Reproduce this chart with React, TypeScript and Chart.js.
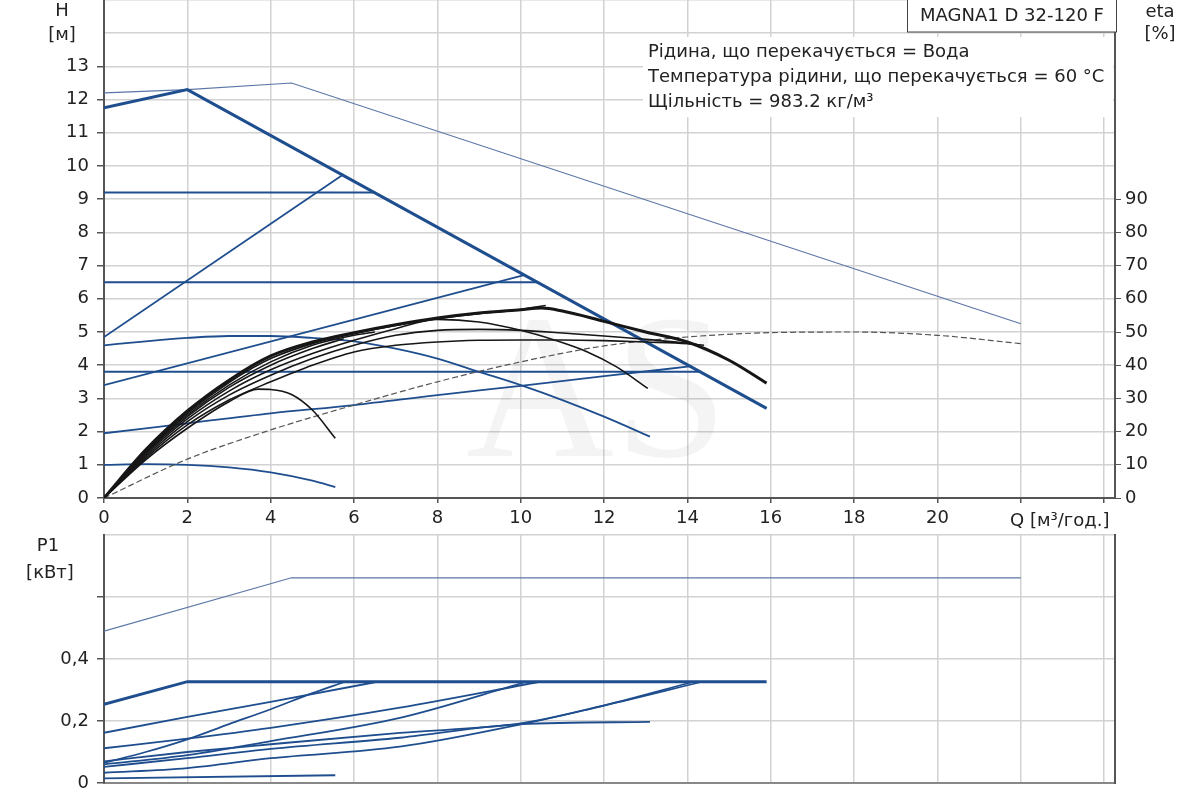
import React, { useEffect, useRef } from "react";
import { Chart, registerables } from "chart.js";

Chart.register(...registerables);

// ---- H curves [m] ----
const maxQ = [0, 2, 4.5, 22];
const maxH = [12.2, 12.3, 12.5, 5.25];
const ctrlMaxQ = [0, 2, 15.9];
const ctrlMaxH = [11.75, 12.3, 2.7];
const cp92Q = [0, 6.5];
const cp92H = [9.2, 9.2];
const cp65Q = [0, 10.4];
const cp65H = [6.5, 6.5];
const cp38Q = [0, 14.3];
const cp38H = [3.8, 3.8];
const pp485Q = [0, 5.75];
const pp485H = [4.85, 9.75];
const pp34Q = [0, 10.1];
const pp34H = [3.4, 6.72];
const pp195Q = [0, 2, 4, 6, 8, 10, 12, 14.1];
const pp195H = [1.95, 2.25, 2.55, 2.8, 3.1, 3.38, 3.67, 3.97];
const cc46Q = [0, 1, 2, 3, 4, 5, 6, 7, 8, 9, 10, 11, 12, 13.1];
const cc46H = [4.6, 4.72, 4.82, 4.88, 4.88, 4.82, 4.72, 4.5, 4.2, 3.8, 3.4, 2.95, 2.45, 1.85];
const minQ = [0, 1, 2, 3, 4, 5, 5.55];
const minH = [1.0, 1.02, 1.0, 0.92, 0.77, 0.52, 0.33];

// ---- eta curves [%] ----
const etaMainQ = [0, 1, 2, 3, 4, 5, 6, 7, 8, 9, 10, 10.5, 11, 12, 13, 14, 15, 15.9];
const etaMain = [0, 14.5, 26.2, 35.5, 42.8, 47, 49.8, 52.2, 54.2, 55.7, 56.7, 57.2, 56.3, 53.2, 50, 47, 41.5, 34.6];
const eta65Q = [0, 1, 2, 3, 4, 5, 6, 7, 8, 9, 10, 10.6];
const eta65 = [0, 14, 25.5, 34.8, 42, 46.5, 49.5, 52, 54, 55.5, 56.8, 58];
const eta92Q = [0, 1, 2, 3, 4, 5, 6, 6.5];
const eta92 = [0, 13.8, 25, 34, 41, 46, 49, 50];
const eta485Q = [0, 1, 2, 3, 4, 5, 5.75];
const eta485 = [0, 13.5, 24.5, 33.3, 40, 45, 48];
const eta46Q = [0, 1, 2, 3, 4, 5, 6, 7, 8, 9, 10, 10.8, 11.6, 12.3, 13.05];
const eta46 = [0, 13, 23.8, 32.2, 38.6, 43.5, 47.5, 51, 53.8, 53, 50.5, 47.6, 44, 39.5, 33];
const eta34Q = [0, 1, 2, 3, 4, 5, 6, 7, 8, 9, 10, 11, 12, 13, 14, 14.3];
const eta34 = [0, 12.5, 23, 31, 37, 42, 46, 49, 50.5, 50.8, 50.5, 49.7, 48.8, 47.8, 46.6, 46];
const eta38Q = [0, 1, 2, 3, 4, 5, 6, 7, 8, 9, 10, 11, 12, 13, 14, 14.4];
const eta38 = [0, 12, 22, 29.5, 35, 40, 44, 46, 47, 47.5, 47.6, 47.6, 47.4, 47, 46.5, 46];
const etaMinQ = [0, 1, 2, 3, 3.7, 4, 4.5, 5, 5.55];
const etaMin = [0, 11.5, 21, 29, 32.8, 32.7, 31.2, 26.5, 18];
const etaMaxQ = [0, 2, 4, 6, 8, 10, 12, 14, 16, 18, 20, 22];
const etaMax = [0, 11.7, 20.5, 28, 35, 41, 45.8, 48.5, 49.8, 50, 49, 46.5];

// ---- P1 curves [kW] ----
const pMaxQ = [0, 4.5, 22];
const pMax = [0.49, 0.662, 0.662];
const pCtrlQ = [0, 2, 15.9];
const pCtrl = [0.254, 0.327, 0.327];
const p92Q = [0, 2, 4, 6.5];
const p92 = [0.162, 0.213, 0.262, 0.325];
const p485Q = [0, 1, 2, 3, 4, 5, 5.75];
const p485 = [0.065, 0.1, 0.141, 0.19, 0.238, 0.29, 0.325];
const p65Q = [0, 2, 4, 7.1, 10.4];
const p65 = [0.112, 0.143, 0.178, 0.243, 0.325];
const p34Q = [0, 2, 4, 7.1, 10.1];
const p34 = [0.06, 0.09, 0.135, 0.21, 0.325];
const p38Q = [0, 2, 4, 7.1, 10, 12, 14.3];
const p38 = [0.07, 0.1, 0.125, 0.162, 0.192, 0.25, 0.325];
const p195Q = [0, 2, 4, 7.1, 10, 12, 14.1];
const p195 = [0.033, 0.048, 0.08, 0.117, 0.189, 0.25, 0.325];
const p46Q = [0, 2, 4, 7.1, 10, 13.1];
const p46 = [0.052, 0.08, 0.11, 0.146, 0.19, 0.197];
const pMinQ = [0, 5.55];
const pMin = [0.015, 0.025];

const infoLines = [
  "Рідина, що перекачується = Вода",
  "Температура рідини, що перекачується = 60 °C",
  "Щільність = 983.2 кг/м³",
];
const pumpName = "MAGNA1 D 32-120 F";

const FONT = "DejaVu Sans";
const BLUE = "#1f4e8f";
const BLUE_THIN = "#5b76a6";
const BLACK = "#161616";
const GRID = "#d2d2d2";
const AXIS = "#555";

const pts = (q: number[], v: number[]) => q.map((x, i) => ({ x, y: v[i] }));

const line = (q: number[], v: number[], color: string, width: number, axis: string, smooth = false, extra: any = {}) => ({
  data: pts(q, v),
  borderColor: color,
  borderWidth: width,
  pointRadius: 0,
  fill: false,
  yAxisID: axis,
  tension: 0,
  cubicInterpolationMode: smooth ? "monotone" : "default",
  ...extra,
});

// no extra label padding, so the plot areas sit exactly where wanted
const fixV = (w: number) => (s: any) => {
  s.width = w;
  s.paddingTop = 0;
  s.paddingBottom = 0;
};
const fixH = (h: number) => (s: any) => {
  s.height = h;
  s.paddingLeft = 0;
  s.paddingRight = 0;
};

const topDecor = {
  id: "topDecor",
  beforeDatasetsDraw(chart: any) {
    const ctx = chart.ctx;
    ctx.save();
    ctx.fillStyle = "rgba(0,0,0,0.045)";
    ctx.font = `205px "Liberation Serif"`;
    ctx.textAlign = "center";
    ctx.textBaseline = "middle";
    ctx.fillText("AS", 597, 402);
    ctx.fillStyle = "#fff";
    ctx.fillRect(643, 37, 470, 80);
    ctx.restore();
  },
  afterDraw(chart: any) {
    const ctx = chart.ctx;
    ctx.save();
    ctx.fillStyle = "#222";
    ctx.font = `18px "${FONT}"`;
    ctx.textBaseline = "middle";
    ctx.textAlign = "center";
    ctx.fillText("H", 62, 11);
    ctx.fillText("[м]", 62, 35);
    ctx.fillText("eta", 1160, 12);
    ctx.fillText("[%]", 1160, 34);
    ctx.textAlign = "left";
    ctx.fillText("Q [м³/год.]", 1010, 521);
    infoLines.forEach((t, i) => ctx.fillText(t, 648, 52 + i * 25));
    // pump name box
    ctx.fillStyle = "#fff";
    ctx.fillRect(907, -1, 210, 33);
    ctx.strokeStyle = "#444";
    ctx.lineWidth = 1;
    ctx.strokeRect(907.5, -1, 209, 33);
    ctx.fillStyle = "#222";
    ctx.textAlign = "center";
    ctx.fillText(pumpName, 1012, 16);
    ctx.restore();
  },
};

const bottomDecor = {
  id: "bottomDecor",
  afterDraw(chart: any) {
    const ctx = chart.ctx;
    ctx.save();
    ctx.fillStyle = "#222";
    ctx.font = `18px "${FONT}"`;
    ctx.textBaseline = "middle";
    ctx.textAlign = "center";
    ctx.fillText("P1", 48, 16);
    ctx.fillText("[кВт]", 50, 43);
    ctx.restore();
  },
};

const tickFont = { family: FONT, size: 18 };

const App: React.FC = () => {
  const topRef = useRef<HTMLCanvasElement>(null);
  const bottomRef = useRef<HTMLCanvasElement>(null);

  useEffect(() => {
    if (!topRef.current || !bottomRef.current) return;

    const topChart = new Chart(topRef.current, {
      type: "line",
      data: {
        datasets: [
          line(etaMainQ, etaMain, BLACK, 3, "yEta", true),
          line(eta65Q, eta65, BLACK, 1.6, "yEta", true),
          line(eta92Q, eta92, BLACK, 1.6, "yEta", true),
          line(eta485Q, eta485, BLACK, 1.6, "yEta", true),
          line(eta46Q, eta46, BLACK, 1.6, "yEta", true),
          line(eta34Q, eta34, BLACK, 1.6, "yEta", true),
          line(eta38Q, eta38, BLACK, 1.6, "yEta", true),
          line(etaMinQ, etaMin, BLACK, 1.6, "yEta", true),
          line(etaMaxQ, etaMax, "#555", 1.2, "yEta", true, { borderDash: [6, 3] }),
          line(ctrlMaxQ, ctrlMaxH, BLUE, 3, "y"),
          line(maxQ, maxH, BLUE_THIN, 1.2, "y"),
          line(cp92Q, cp92H, BLUE, 2, "y"),
          line(cp65Q, cp65H, BLUE, 2, "y"),
          line(cp38Q, cp38H, BLUE, 2, "y"),
          line(pp485Q, pp485H, BLUE, 1.8, "y"),
          line(pp34Q, pp34H, BLUE, 1.8, "y"),
          line(pp195Q, pp195H, BLUE, 1.8, "y", true),
          line(cc46Q, cc46H, BLUE, 1.8, "y", true),
          line(minQ, minH, BLUE, 1.8, "y", true),
        ] as any,
      },
      options: {
        responsive: false,
        animation: false,
        layout: { padding: 0 },
        plugins: { legend: { display: false }, tooltip: { enabled: false } },
        scales: {
          x: {
            type: "linear",
            min: 0,
            max: 24.26,
            ticks: {
              stepSize: 2,
              includeBounds: false,
              autoSkip: false,
              maxRotation: 0,
              padding: 5,
              color: "#222",
              font: tickFont,
              callback: (v: any) => (v <= 20 ? String(v) : ""),
            },
            grid: { color: GRID, lineWidth: 1.5, tickLength: 5, tickColor: AXIS },
            border: { color: AXIS, width: 2 },
            afterFit: fixH(32),
          },
          y: {
            position: "left",
            min: 0,
            max: 15,
            ticks: {
              stepSize: 1,
              padding: 8,
              color: "#222",
              font: tickFont,
              callback: (v: any) => (v <= 13 ? String(v) : ""),
            },
            grid: {
              color: GRID,
              lineWidth: 1.5,
              tickLength: 7,
              tickColor: (c: any) => (c.tick && c.tick.value <= 13 ? AXIS : "rgba(0,0,0,0)"),
            },
            border: { color: AXIS, width: 2 },
            afterFit: fixV(104),
          },
          yEta: {
            position: "right",
            min: 0,
            max: 150,
            ticks: {
              stepSize: 10,
              padding: 4,
              color: "#222",
              font: tickFont,
              callback: (v: any) => (v <= 90 ? String(v) : ""),
            },
            grid: {
              drawOnChartArea: false,
              tickLength: 6,
              tickColor: (c: any) => (c.tick && c.tick.value <= 90 ? AXIS : "rgba(0,0,0,0)"),
            },
            border: { color: AXIS, width: 2 },
            afterFit: fixV(85),
          },
        },
      } as any,
      plugins: [topDecor],
    });

    const bottomChart = new Chart(bottomRef.current, {
      type: "line",
      data: {
        datasets: [
          line(pCtrlQ, pCtrl, BLUE, 3, "y"),
          line(pMaxQ, pMax, BLUE_THIN, 1.2, "y"),
          line(p92Q, p92, BLUE, 1.8, "y"),
          line(p485Q, p485, BLUE, 1.8, "y", true),
          line(p65Q, p65, BLUE, 1.8, "y", true),
          line(p34Q, p34, BLUE, 1.8, "y", true),
          line(p38Q, p38, BLUE, 1.8, "y", true),
          line(p195Q, p195, BLUE, 1.8, "y", true),
          line(p46Q, p46, BLUE, 1.8, "y", true),
          line(pMinQ, pMin, BLUE, 1.8, "y"),
        ] as any,
      },
      options: {
        responsive: false,
        animation: false,
        layout: { padding: { top: 5 } },
        plugins: { legend: { display: false }, tooltip: { enabled: false } },
        scales: {
          x: {
            type: "linear",
            min: 0,
            max: 24.26,
            ticks: { stepSize: 2, includeBounds: false, display: false },
            grid: { color: GRID, lineWidth: 1.5, drawTicks: false },
            border: { color: "#888", width: 2 },
            afterFit: fixH(17),
          },
          y: {
            position: "left",
            min: 0,
            max: 0.8,
            ticks: {
              stepSize: 0.2,
              padding: 8,
              color: "#222",
              font: tickFont,
              callback: (v: any) => {
                const r = Math.round(v * 10) / 10;
                if (r === 0) return "0";
                if (r <= 0.4) return r.toFixed(1).replace(".", ",");
                return "";
              },
            },
            grid: {
              color: GRID,
              lineWidth: 1.5,
              tickLength: 7,
              tickColor: (c: any) => (c.tick && c.tick.value < 0.7 ? AXIS : "rgba(0,0,0,0)"),
            },
            border: { color: AXIS, width: 2 },
            afterFit: fixV(104),
          },
          yr: {
            position: "right",
            min: 0,
            max: 0.8,
            ticks: { display: false },
            grid: { drawOnChartArea: false, drawTicks: false },
            border: { color: AXIS, width: 2 },
            afterFit: fixV(85),
          },
        },
      } as any,
      plugins: [bottomDecor],
    });

    return () => {
      topChart.destroy();
      bottomChart.destroy();
    };
  }, []);

  return (
    <div style={{ position: "absolute", left: 0, top: 0, width: 1200, height: 800, background: "#fff" }}>
      <canvas ref={topRef} width={1200} height={530} style={{ display: "block", position: "absolute", left: 0, top: 0 }} />
      <canvas ref={bottomRef} width={1200} height={270} style={{ display: "block", position: "absolute", left: 0, top: 530 }} />
    </div>
  );
};

export default App;
